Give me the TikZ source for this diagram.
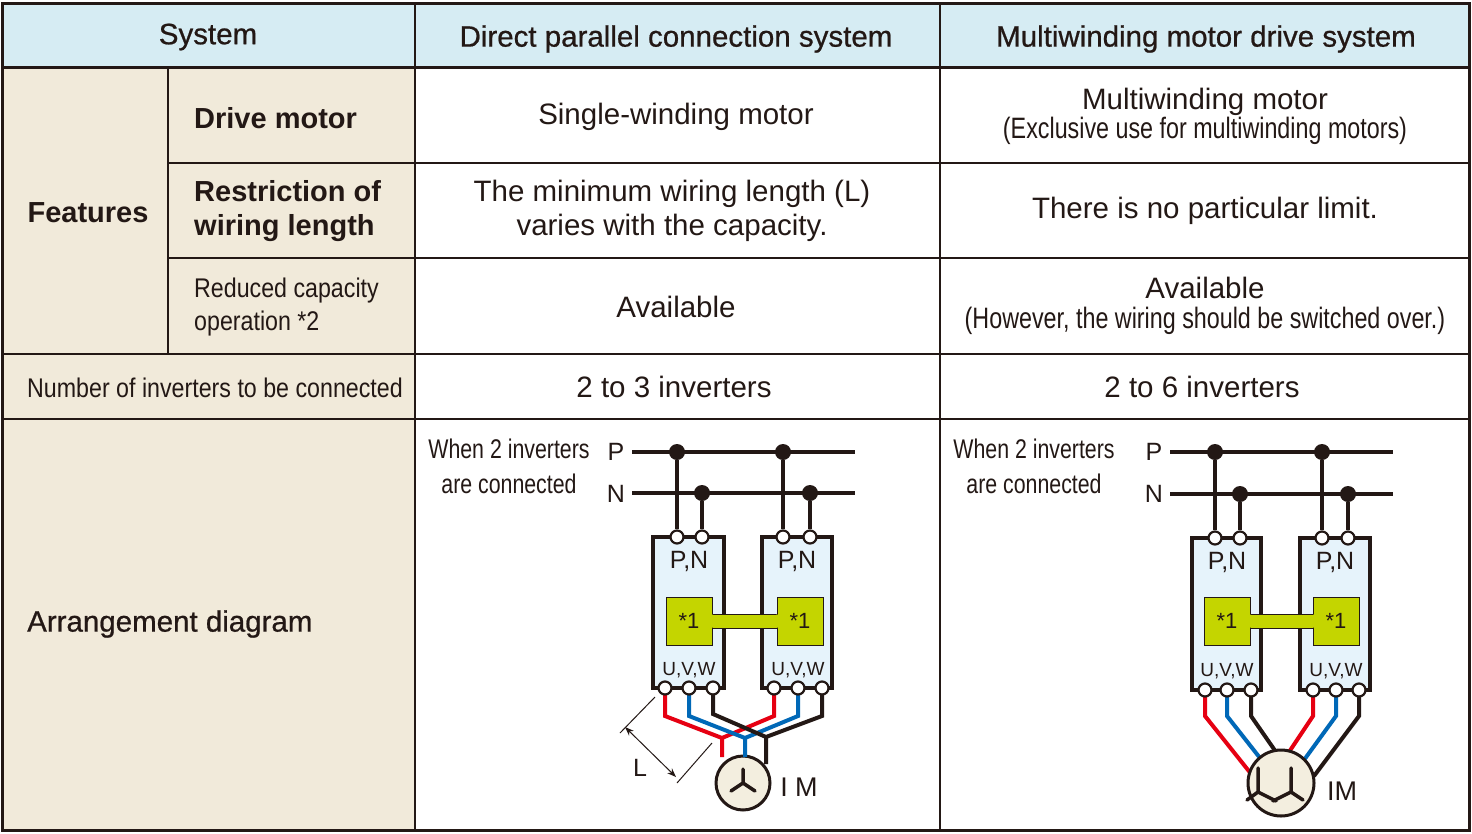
\documentclass[tikz,border=0pt]{standalone}
\usepackage{fontspec}
\setmainfont{Liberation Sans}
\newfontfamily\medf{Liberation Sans}[FakeBold=0.7]
\usetikzlibrary{arrows.meta}
\definecolor{hdr}{HTML}{D6ECF3}
\definecolor{beige}{HTML}{F1EADA}
\definecolor{inv}{HTML}{E6F3FB}
\definecolor{grn}{HTML}{C4D500}
\definecolor{ink}{HTML}{231815}
\definecolor{wred}{HTML}{E60012}
\definecolor{wblue}{HTML}{0068B7}
\definecolor{mot}{HTML}{F3EEDF}
\newcommand{\cnd}[1]{\scalebox{0.86}[1]{#1}}
\newcommand{\cnn}[1]{\scalebox{0.79}[1]{#1}}
\tikzset{
 txt/.style={font=\fontsize{29.5}{33}\selectfont, text=ink, align=center, inner sep=0},
 htxt/.style={font=\fontsize{29.5}{33}\selectfont\medf, text=ink, align=center, inner sep=0},
 ctxt/.style={font=\fontsize{27}{35}\selectfont, text=ink, align=center, inner sep=0},
 bus/.style={line width=3.5pt, draw=ink},
 dot/.style={circle, fill=ink, minimum size=16pt, inner sep=0},
 term/.style={circle, draw=ink, line width=2.2pt, fill=white, minimum size=13pt, inner sep=0},
 wire/.style={line width=4pt, line join=miter},
 box/.style={draw=ink, line width=3.5pt, fill=inv},
 gbox/.style={fill=grn, draw=ink, line width=0.6pt, font=\fontsize{22}{22}\selectfont, text=ink},
 lbl/.style={font=\fontsize{25}{25}\selectfont, text=ink, inner sep=0},
 sm/.style={font=\fontsize{19}{19}\selectfont, text=ink, inner sep=0},
}
\begin{document}
\begin{tikzpicture}[x=1pt,y=-1pt]
\useasboundingbox (0,0) rectangle (1472,833);
\fill[hdr] (2,3) rectangle (1469,67);
\fill[beige] (2,67) rectangle (415,830);
\fill[white] (415,67) rectangle (1469,830);
\draw[ink, line width=3pt] (2,3) rectangle (1469,830);
\draw[ink, line width=3pt] (2,67) -- (1469,67);
\draw[ink, line width=1.5pt] (168,163) -- (1469,163);
\draw[ink, line width=1.5pt] (168,258) -- (1469,258);
\draw[ink, line width=1.5pt] (2,354) -- (1469,354);
\draw[ink, line width=1.5pt] (2,419) -- (1469,419);
\draw[ink, line width=1.5pt] (168,67) -- (168,354);
\draw[ink, line width=1.5pt] (415,3) -- (415,830);
\draw[ink, line width=1.5pt] (940,3) -- (940,830);
% header
\node[htxt] (h1) at (208,37) {System};
\node[htxt] (h2) at (676,39) {Direct parallel connection system};
\node[htxt] (h3) at (1206,39) {Multiwinding motor drive system};
% rows
\node[txt, font=\fontsize{29}{33}\selectfont\bfseries] (f) at (88,213) {Features};
\node[txt, font=\fontsize{29}{33}\selectfont\bfseries, anchor=west] (dm) at (194,118) {Drive motor};
\node[txt, font=\fontsize{29}{34}\selectfont\bfseries, anchor=west, align=left] (rw) at (194,211) {Restriction of\\wiring length};
\node[ctxt, anchor=west, align=left] (rc) at (194,307) {\cnd{Reduced capacity}\\[-2pt]\cnd{operation *2}};
\node[ctxt, anchor=west] (ni) at (27,388) {\cnd{Number of inverters to be connected}};
\node[htxt, anchor=west] (ad) at (27,624) {Arrangement diagram};
\node[txt] (c1) at (676,117) {Single-winding motor};
\node[txt] (c2) at (1205,116) {Multiwinding motor\\[-4pt]\cnn{(Exclusive use for multiwinding motors)}};
\node[txt, font=\fontsize{29.5}{34}\selectfont] (c3) at (672,211) {The minimum wiring length (L)\\varies with the capacity.};
\node[txt] (c4) at (1205,211) {There is no particular limit.};
\node[txt] (c5) at (676,307) {Available};
\node[txt] (c6) at (1205,306) {Available\\[-3pt]\cnn{(However, the wiring should be switched over.)}};
\node[txt] (c7) at (674,387) {2 to 3 inverters};
\node[txt] (c8) at (1202,387) {2 to 6 inverters};
\node[ctxt] (w1) at (509,466) {\cnn{When 2 inverters}\\\cnn{are connected}};
\node[ctxt] (w2) at (1034,466) {\cnn{When 2 inverters}\\\cnn{are connected}};

% ===== left diagram =====
\begin{scope}
\node[lbl] (lP) at (616,452) {P};
\node[lbl] (lN) at (616,494) {N};
\coordinate (lP0) at (632,452); \coordinate (lP1) at (855,452);
\coordinate (lN0) at (632,493); \coordinate (lN1) at (855,493);
\draw[bus] (lP0) -- (lP1); \draw[bus] (lN0) -- (lN1);
\filldraw[box] (653,537) rectangle (724,688);
\filldraw[box] (762,537) rectangle (832,688);
\draw[grn, line width=13pt] (712,621) -- (777,621);
\draw[ink, line width=0.6pt] (712,614) -- (777,614) (712,628) -- (777,628);
\node[gbox, minimum width=46pt, minimum height=48pt] (lg1) at (689,621) {*1};
\node[gbox, minimum width=46pt, minimum height=48pt] (lg2) at (800,621) {*1};
\fill[grn] (711,614.5) rectangle (713,627.5) (776,614.5) rectangle (778,627.5);
\node[dot] (ld1) at (677,452) {}; \node[dot] (ld2) at (783,452) {};
\node[dot] (ld3) at (702,493) {}; \node[dot] (ld4) at (810,493) {};
\node[term] (lt1) at (677,537) {}; \node[term] (lt2) at (702,537) {};
\node[term] (lt3) at (783,537) {}; \node[term] (lt4) at (810,537) {};
\draw[bus] (ld1) -- (lt1); \draw[bus] (ld3) -- (lt2);
\draw[bus] (ld2) -- (lt3); \draw[bus] (ld4) -- (lt4);
\node[lbl] (lpn1) at (689,561) {P,N}; \node[lbl] (lpn2) at (797,561) {P,N};
\node[sm] (luvw1) at (689,670) {U,V,W}; \node[sm] (luvw2) at (798,670) {U,V,W};
\node[circle, draw=ink, line width=3pt, fill=mot, minimum size=54pt, inner sep=0] (lm) at (743,783) {};
\node[lbl, font=\fontsize{27}{27}\selectfont] (lim) at (799,787) {I M};
\draw[wire, wred] (665,690) -- (665,716) -- (722,738) -- (722,757);
\draw[wire, wred] (774,690) -- (774,716) -- (722,738);
\draw[wire, wblue] (689,690) -- (689,716) -- (745,738) -- (745,757);
\draw[wire, wblue] (798,690) -- (798,716) -- (745,738);
\draw[wire, ink] (713,690) -- (713,714) -- (766,737) -- (766,764);
\draw[wire, ink] (822,690) -- (822,716) -- (766,737);
\node[term] (lb1) at (665,688) {}; \node[term] (lb2) at (689,688) {}; \node[term] (lb3) at (713,688) {};
\node[term] (lb4) at (774,688) {}; \node[term] (lb5) at (798,688) {}; \node[term] (lb6) at (822,688) {};
\draw[ink, line width=3.5pt, line cap=round] (743,783) -- (743,769) (743,783) -- (731,791) (743,783) -- (755,791);
\draw[ink, line width=1pt] (655,697) -- (620,733);
\draw[ink, line width=1pt] (712,743) -- (677,783);
\draw[ink, line width=1pt, {Stealth[length=9pt]}-{Stealth[length=9pt]}] (625,727) -- (676,777);
\node[lbl] (lL) at (640,768) {L};
\end{scope}

% ===== right diagram =====
\begin{scope}
\node[lbl] (rP) at (1154,452) {P};
\node[lbl] (rN) at (1154,494) {N};
\coordinate (rP0) at (1170,452); \coordinate (rP1) at (1393,452);
\coordinate (rN0) at (1170,494); \coordinate (rN1) at (1393,494);
\draw[bus] (rP0) -- (rP1); \draw[bus] (rN0) -- (rN1);
\filldraw[box] (1192,538) rectangle (1261,690);
\filldraw[box] (1300,538) rectangle (1370,690);
\draw[grn, line width=13pt] (1250,621) -- (1314,621);
\draw[ink, line width=0.6pt] (1250,614) -- (1314,614) (1250,628) -- (1314,628);
\node[gbox, minimum width=46pt, minimum height=48pt] (rg1) at (1227,621) {*1};
\node[gbox, minimum width=46pt, minimum height=48pt] (rg2) at (1336,621) {*1};
\fill[grn] (1249,614.5) rectangle (1251,627.5) (1313,614.5) rectangle (1315,627.5);
\node[dot] (rd1) at (1215,452) {}; \node[dot] (rd2) at (1322,452) {};
\node[dot] (rd3) at (1240,494) {}; \node[dot] (rd4) at (1348,494) {};
\node[term] (rt1) at (1215,538) {}; \node[term] (rt2) at (1240,538) {};
\node[term] (rt3) at (1322,538) {}; \node[term] (rt4) at (1348,538) {};
\draw[bus] (rd1) -- (rt1); \draw[bus] (rd3) -- (rt2);
\draw[bus] (rd2) -- (rt3); \draw[bus] (rd4) -- (rt4);
\node[lbl] (rpn1) at (1227,562) {P,N}; \node[lbl] (rpn2) at (1335,562) {P,N};
\node[sm] (ruvw1) at (1227,671) {U,V,W}; \node[sm] (ruvw2) at (1336,671) {U,V,W};
\draw[wire, wred] (1205,690) -- (1205,716) -- (1252,775);
\draw[wire, wblue] (1227,690) -- (1227,716) -- (1260,758);
\draw[wire, ink] (1251,690) -- (1251,716) -- (1276,752);
\draw[wire, wred] (1313,690) -- (1313,716) -- (1289,752);
\draw[wire, wblue] (1336,690) -- (1336,716) -- (1304,760);
\draw[wire, ink] (1359,690) -- (1359,716) -- (1314,776);
\node[term] (rb1) at (1205,690) {}; \node[term] (rb2) at (1227,690) {}; \node[term] (rb3) at (1251,690) {};
\node[term] (rb4) at (1313,690) {}; \node[term] (rb5) at (1336,690) {}; \node[term] (rb6) at (1359,690) {};
\node[circle, draw=ink, line width=3pt, fill=mot, minimum size=66pt, inner sep=0] (rm) at (1281,783) {};
\draw[ink, line width=3.5pt, line cap=round, line join=round]
 (1258,768) -- (1258,792) -- (1247,800) (1258,792) -- (1276,801)
 (1291,768) -- (1291,792) -- (1303,800) (1291,792) -- (1273,801);
\node[lbl, font=\fontsize{27}{27}\selectfont] (rim) at (1342,791) {IM};
\end{scope}
\end{tikzpicture}
\end{document}
